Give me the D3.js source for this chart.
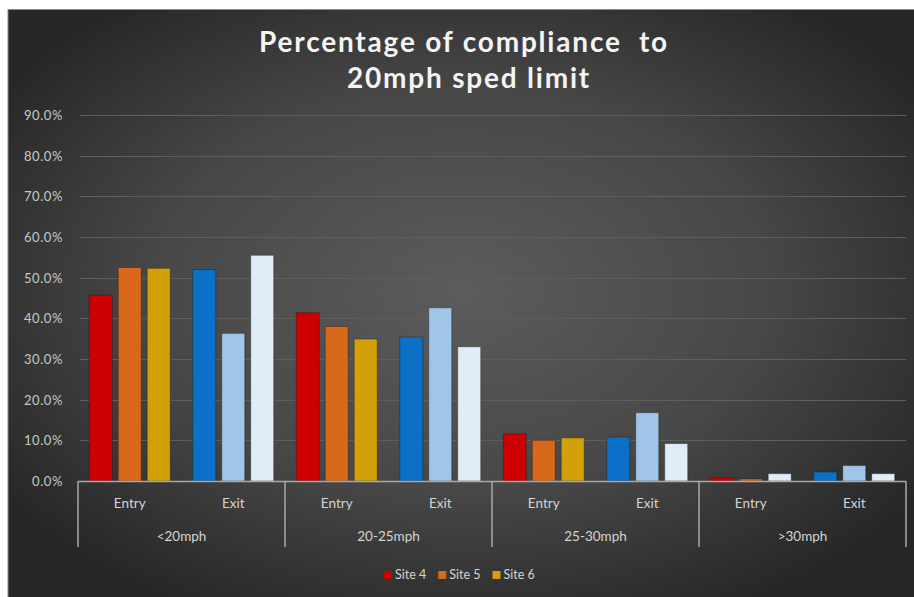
<!DOCTYPE html>
<html>
<head>
<meta charset="utf-8">
<script src="https://cdn.jsdelivr.net/npm/d3@7"></script>
<style>
  html, body { margin: 0; padding: 0; background: #ffffff; }
  svg { display: block; }
</style>
</head>
<body>
<svg id="chart" width="914" height="597"></svg>
<script>
// ---- data ----
const categories = ["<20mph", "20-25mph", "25-30mph", ">30mph"];
const directions = ["Entry", "Exit"];
const sites = ["Site 4", "Site 5", "Site 6"];
// percentages, ordered per category: Entry, Exit
const site4 = [45.7, 52.0, 41.4, 35.4, 11.6, 10.8, 0.8, 2.2];
const site5 = [52.5, 36.3, 38.0, 42.6, 10.0, 16.8, 0.5, 3.8];
const site6 = [52.3, 55.5, 34.9, 33.0, 10.6, 9.2, 1.8, 1.8];
const yTicks = [0, 10, 20, 30, 40, 50, 60, 70, 80, 90];

// ---- styles ----
const entryColors = { "Site 4": "#cc0000", "Site 5": "#d8681a", "Site 6": "#d2a008" };
const exitColors  = { "Site 4": "#0a70c8", "Site 5": "#9fc5e8", "Site 6": "#e0ecf8" };
const fontFamily = "Lato, 'Open Sans', sans-serif";

const seriesValues = { "Site 4": site4, "Site 5": site5, "Site 6": site6 };
const bars = [];
categories.forEach((cat, ci) => {
  directions.forEach((dir, di) => {
    sites.forEach(site => {
      const v = seriesValues[site][ci * 2 + di];
      let color = dir === "Entry" ? entryColors[site] : exitColors[site];
      // the >30mph entry bar for Site 6 is shown in the light exit tone
      if (cat === ">30mph" && dir === "Entry" && site === "Site 6") color = exitColors[site];
      bars.push({ cat, dir, site, v, color });
    });
  });
});

const W = 914, H = 597;
const svg = d3.select("#chart");

// ---- background panel ----
const defs = svg.append("defs");
const grad = defs.append("radialGradient")
  .attr("id", "bg").attr("cx", "50%").attr("cy", "48%").attr("r", "62%");
grad.append("stop").attr("offset", "0%").attr("stop-color", "#5c5c5c");
grad.append("stop").attr("offset", "55%").attr("stop-color", "#474747");
grad.append("stop").attr("offset", "100%").attr("stop-color", "#262626");

svg.append("rect").attr("x", 8).attr("y", 9).attr("width", W - 8).attr("height", H - 9)
  .attr("fill", "url(#bg)");
svg.append("line").attr("x1", 8).attr("x2", 8).attr("y1", 9).attr("y2", H)
  .attr("stroke", "#8a8a8a").attr("stroke-width", 1);
svg.append("line").attr("x1", 8).attr("x2", W).attr("y1", 9.5).attr("y2", 9.5)
  .attr("stroke", "#8a8a8a").attr("stroke-width", 1);

// ---- scales ----
const plot = { left: 78, right: 906, top: 115, bottom: 481 };
const y = d3.scaleLinear().domain([0, 90]).range([plot.bottom, plot.top]);
const x0 = d3.scaleBand().domain(categories).range([plot.left, plot.right]).padding(0);
const x1 = d3.scaleBand().domain(directions).range([0, x0.bandwidth()]).padding(0);
const x2 = d3.scaleBand().domain(sites).range([0, x1.bandwidth()])
  .paddingInner(0.207).paddingOuter(0.39);

// ---- gridlines ----
svg.append("g")
  .selectAll("line").data(yTicks.filter(t => t > 0)).join("line")
  .attr("x1", plot.left + 2).attr("x2", plot.right)
  .attr("y1", d => Math.round(y(d)) + 0.5).attr("y2", d => Math.round(y(d)) + 0.5)
  .attr("stroke", "#5e5e5e").attr("stroke-width", 1.2);

// ---- y axis labels ----
const yAxis = d3.axisLeft(y).tickValues(yTicks).tickSize(0).tickPadding(0)
  .tickFormat(d => d.toFixed(1) + "%");
const gy = svg.append("g").attr("transform", `translate(63,0)`).call(yAxis);
gy.select(".domain").remove();
gy.selectAll("text").attr("fill", "#c8c8c8").attr("font-family", fontFamily)
  .attr("font-size", 13).attr("letter-spacing", 0.6).attr("dy", "0.35em");

// ---- bars ----
svg.append("g")
  .selectAll("rect").data(bars).join("rect")
  .attr("x", d => x0(d.cat) + x1(d.dir) + x2(d.site))
  .attr("y", d => y(d.v))
  .attr("width", x2.bandwidth())
  .attr("height", d => y(0) - y(d.v))
  .attr("fill", d => d.color)
  .attr("stroke", "rgba(20,20,20,0.35)").attr("stroke-width", 1);

// ---- category axis ----
const gx = svg.append("g");
gx.append("line").attr("x1", plot.left).attr("x2", plot.right)
  .attr("y1", plot.bottom + 0.5).attr("y2", plot.bottom + 0.5)
  .attr("stroke", "#a8a8a8").attr("stroke-width", 1.5);
const bounds = categories.map(c => x0(c)).concat([plot.right]);
gx.selectAll("line.sep").data(bounds).join("line").attr("class", "sep")
  .attr("x1", d => d).attr("x2", d => d)
  .attr("y1", plot.bottom).attr("y2", 547)
  .attr("stroke", "#a8a8a8").attr("stroke-width", 1.5);

const subLabels = [];
categories.forEach(c => directions.forEach(d => subLabels.push({ c, d })));
gx.selectAll("text.dir").data(subLabels).join("text").attr("class", "dir")
  .attr("x", d => x0(d.c) + x1(d.d) + x1.bandwidth() / 2)
  .attr("y", 503).attr("dy", "0.35em").attr("text-anchor", "middle")
  .attr("fill", "#d4d4d4").attr("font-family", fontFamily).attr("font-size", 13.5)
  .text(d => d.d);
gx.selectAll("text.cat").data(categories).join("text").attr("class", "cat")
  .attr("x", d => x0(d) + x0.bandwidth() / 2)
  .attr("y", 536).attr("dy", "0.35em").attr("text-anchor", "middle")
  .attr("fill", "#d4d4d4").attr("font-family", fontFamily).attr("font-size", 13.5)
  .text(d => d);

// ---- title ----
const title = svg.append("g").attr("font-family", fontFamily).attr("font-weight", 700)
  .attr("fill", "#f4f4f4").attr("text-anchor", "middle").attr("font-size", 28)
  .attr("letter-spacing", 1.8);
title.append("text").attr("x", 464).attr("y", 52).attr("xml:space", "preserve")
  .text("Percentage of compliance  to");
title.append("text").attr("x", 469).attr("y", 88).text("20mph sped limit");

// ---- legend ----
const legend = svg.append("g").attr("transform", "translate(384,575)");
let lx = 0;
sites.forEach(s => {
  const g = legend.append("g").attr("transform", `translate(${lx},0)`);
  g.append("rect").attr("x", 0).attr("y", -4).attr("width", 8).attr("height", 8)
    .attr("fill", entryColors[s]);
  const t = g.append("text").attr("x", 11).attr("dy", "0.35em")
    .attr("fill", "#d4d4d4").attr("font-family", fontFamily).attr("font-size", 12.5)
    .text(s);
  lx += 11 + t.node().getComputedTextLength() + 12;
});
</script>
</body>
</html>
